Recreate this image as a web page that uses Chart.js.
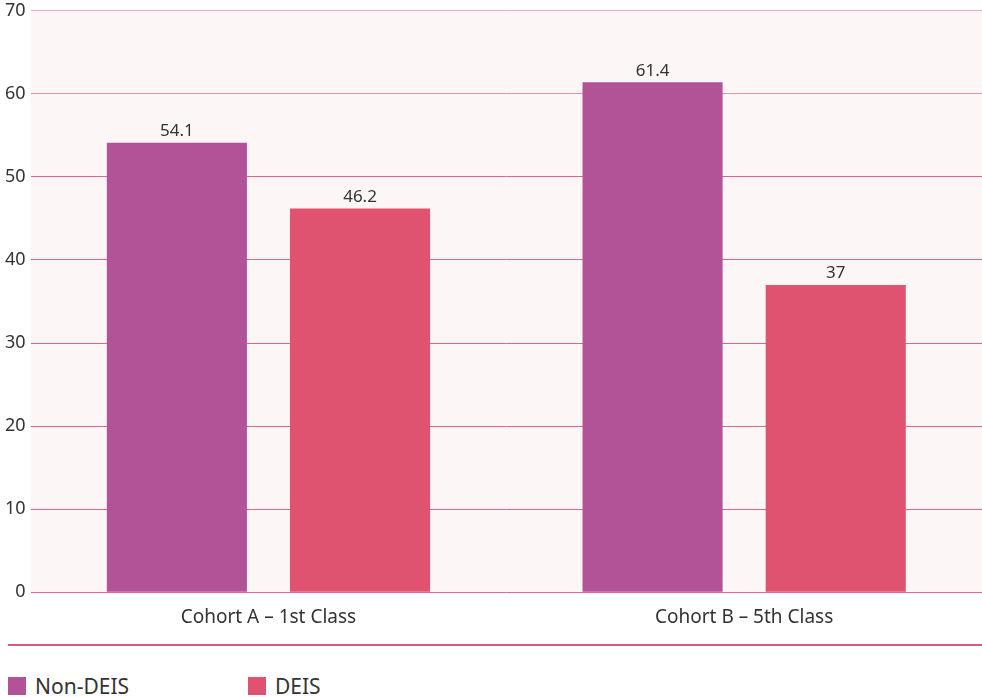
<!DOCTYPE html>
<html>
<head>
<meta charset="utf-8">
<script src="https://cdn.jsdelivr.net/npm/chart.js@4"></script>
<style>
  html, body { margin:0; padding:0; background:#fff; }
  body { width:982px; height:697px; overflow:hidden; font-family:'Noto Sans', sans-serif; color:#333; }
  #wrap { position:relative; top:-5px; width:982px; height:640px; }
  #rule { position:absolute; left:8px; top:644px; width:974px; height:2px; background:#e0587c; }
  #legend { position:absolute; left:8px; top:672px; display:flex; }
  #legend .item { display:flex; align-items:center; width:240px; font-size:21px; color:#333; }
  #legend .sw { width:18px; height:18px; margin-right:9px; }
</style>
</head>
<body>
<div id="wrap"><canvas id="chart"></canvas></div>
<div id="rule"></div>
<div id="legend"></div>
<script>
  // cohorts and the two school groups
  const categories = ['Cohort A – 1st Class', 'Cohort B – 5th Class'];
  const nonDeis = [54.1, 61.4];
  const deis = [46.2, 37];
  const yTicks = [0, 10, 20, 30, 40, 50, 60, 70];

  const series = [
    { label:'Non-DEIS', data:nonDeis, color:'#b25398' },
    { label:'DEIS', data:deis, color:'#df5270' },
  ];

  // light pink panel behind the bars
  const panelBg = {
    id:'panelBg',
    beforeDraw(chart){
      const { ctx, chartArea:a } = chart;
      ctx.save();
      ctx.fillStyle = '#fdf6f7';
      ctx.fillRect(a.left, a.top, a.right - a.left, a.bottom - a.top);
      ctx.restore();
    }
  };

  // value printed above each bar
  const barValues = {
    id:'barValues',
    afterDatasetsDraw(chart){
      const { ctx } = chart;
      ctx.save();
      ctx.font = '17px "Noto Sans", sans-serif';
      ctx.fillStyle = '#333';
      ctx.textAlign = 'center';
      ctx.textBaseline = 'bottom';
      chart.data.datasets.forEach((ds, i) => {
        chart.getDatasetMeta(i).data.forEach((bar, j) => {
          ctx.fillText(String(ds.data[j]), bar.x, bar.y - 3);
        });
      });
      ctx.restore();
    }
  };

  new Chart(document.getElementById('chart'), {
    type:'bar',
    data:{
      labels:categories,
      datasets:series.map(s => ({
        label:s.label, data:s.data, backgroundColor:s.color,
        categoryPercentage:0.77, barPercentage:0.765
      }))
    },
    options:{
      responsive:true,
      maintainAspectRatio:false,
      animation:false,
      layout:{ padding:0 },
      plugins:{ legend:{ display:false }, tooltip:{ enabled:false } },
      scales:{
        x:{
          grid:{ display:false },
          border:{ display:false },
          ticks:{ color:'#333', font:{ family:'Noto Sans', size:19 }, padding:6 }
        },
        y:{
          min:0, max:70,
          afterBuildTicks(axis){ axis.ticks = yTicks.map(v => ({ value:v })); },
          border:{ display:false },
          grid:{
            drawTicks:false,
            color:c => c.tick.value === 70 ? '#f2a9bb' : c.tick.value === 60 ? '#ec8fa7' : '#e6628a'
          },
          ticks:{ color:'#333', font:{ family:'Noto Sans', size:18 }, padding:5 }
        }
      }
    },
    plugins:[panelBg, barValues]
  });

  document.getElementById('legend').innerHTML = series.map(s =>
    `<div class="item"><span class="sw" style="background:${s.color}"></span>${s.label}</div>`).join('');
</script>
</body>
</html>
